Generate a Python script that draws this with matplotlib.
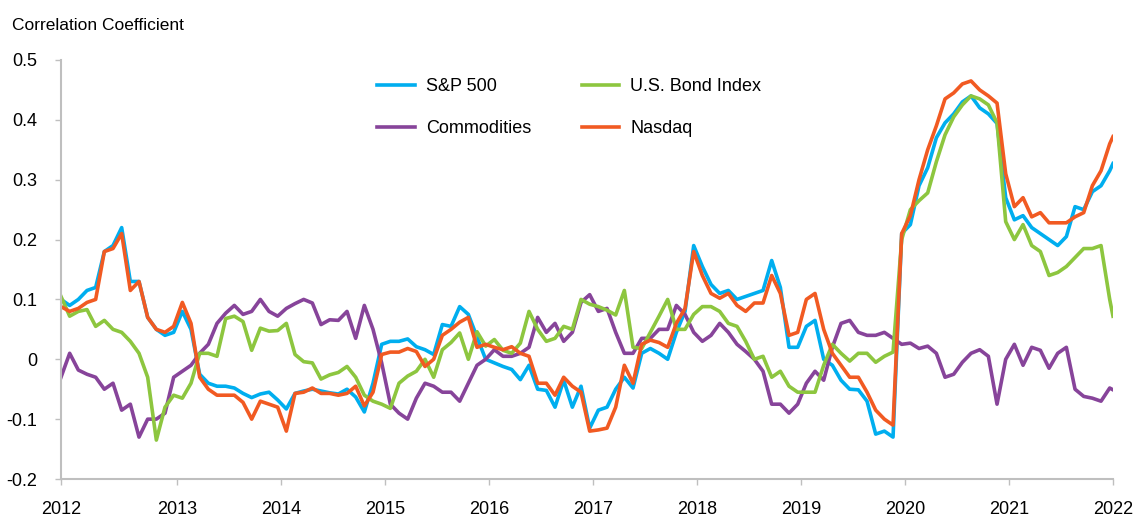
import numpy as np
import matplotlib
matplotlib.use("Agg")
import matplotlib.pyplot as plt

plt.rcParams['font.family'] = ['Liberation Sans Narrow', 'Liberation Sans', 'DejaVu Sans']

# monthly readings, mid-Nov 2011 .. end 2021
t = list(2011.885 + np.arange(122) / 12) + [2022.0]

sp500 = [
    0.100, 0.090, 0.100, 0.115, 0.120, 0.180, 0.190, 0.220, 0.130, 0.130,
    0.070, 0.050, 0.040, 0.045, 0.080, 0.050, -0.025, -0.040, -0.045, -0.045,
    -0.048, -0.057, -0.064, -0.058, -0.055, -0.068, -0.083, -0.057, -0.053, -0.050,
    -0.053, -0.056, -0.058, -0.050, -0.063, -0.088, -0.040, 0.025, 0.030, 0.030,
    0.034, 0.021, 0.016, 0.008, 0.058, 0.055, 0.088, 0.075, 0.037, 0.000,
    -0.006, -0.012, -0.017, -0.034, -0.010, -0.050, -0.052, -0.080, -0.035, -0.080,
    -0.045, -0.115, -0.085, -0.080, -0.050, -0.030, -0.048, 0.010, 0.018, 0.010,
    0.000, 0.045, 0.080, 0.190, 0.155, 0.125, 0.110, 0.115, 0.100, 0.105,
    0.110, 0.115, 0.165, 0.120, 0.020, 0.020, 0.055, 0.065, 0.000, -0.010,
    -0.035, -0.050, -0.051, -0.070, -0.125, -0.120, -0.130, 0.210, 0.225, 0.290,
    0.320, 0.370, 0.395, 0.410, 0.430, 0.440, 0.420, 0.410, 0.394, 0.270,
    0.233, 0.240, 0.220, 0.210, 0.200, 0.190, 0.205, 0.255, 0.250, 0.280,
    0.290, 0.315, 0.327,
]

nasdaq = [
    0.088, 0.080, 0.085, 0.095, 0.100, 0.180, 0.185, 0.210, 0.115, 0.130,
    0.070, 0.050, 0.045, 0.055, 0.095, 0.060, -0.030, -0.050, -0.060, -0.060,
    -0.060, -0.072, -0.100, -0.070, -0.075, -0.080, -0.120, -0.057, -0.055, -0.048,
    -0.057, -0.057, -0.060, -0.057, -0.045, -0.078, -0.055, 0.008, 0.012, 0.012,
    0.018, 0.013, -0.012, 0.000, 0.040, 0.050, 0.062, 0.070, 0.020, 0.025,
    0.020, 0.016, 0.021, 0.010, 0.005, -0.040, -0.040, -0.060, -0.030, -0.045,
    -0.055, -0.120, -0.118, -0.115, -0.080, -0.010, -0.040, 0.025, 0.032, 0.028,
    0.020, 0.060, 0.085, 0.180, 0.140, 0.110, 0.102, 0.110, 0.090, 0.080,
    0.094, 0.094, 0.140, 0.110, 0.040, 0.045, 0.100, 0.110, 0.050, 0.010,
    -0.010, -0.030, -0.030, -0.055, -0.085, -0.100, -0.110, 0.210, 0.240, 0.300,
    0.350, 0.390, 0.435, 0.445, 0.460, 0.465, 0.450, 0.440, 0.428, 0.310,
    0.255, 0.270, 0.238, 0.245, 0.228, 0.228, 0.228, 0.238, 0.245, 0.290,
    0.315, 0.360, 0.372,
]

bond = [
    0.105, 0.072, 0.080, 0.083, 0.055, 0.065, 0.050, 0.045, 0.030, 0.010,
    -0.030, -0.135, -0.080, -0.060, -0.065, -0.040, 0.010, 0.010, 0.005, 0.068,
    0.072, 0.063, 0.015, 0.052, 0.047, 0.048, 0.060, 0.008, -0.004, -0.006,
    -0.033, -0.026, -0.022, -0.012, -0.030, -0.060, -0.070, -0.075, -0.082, -0.040,
    -0.028, -0.020, 0.000, -0.030, 0.016, 0.028, 0.044, 0.000, 0.046, 0.022,
    0.033, 0.015, 0.010, 0.027, 0.080, 0.050, 0.030, 0.035, 0.055, 0.050,
    0.100, 0.092, 0.088, 0.082, 0.074, 0.115, 0.020, 0.018, 0.045, 0.072,
    0.100, 0.050, 0.050, 0.075, 0.088, 0.088, 0.080, 0.060, 0.055, 0.030,
    0.000, 0.005, -0.030, -0.020, -0.045, -0.055, -0.055, -0.055, -0.010, 0.025,
    0.010, -0.003, 0.010, 0.010, -0.005, 0.005, 0.012, 0.200, 0.250, 0.265,
    0.278, 0.330, 0.375, 0.405, 0.425, 0.440, 0.435, 0.425, 0.395, 0.230,
    0.200, 0.225, 0.190, 0.180, 0.140, 0.145, 0.155, 0.170, 0.185, 0.185,
    0.190, 0.100, 0.072,
]

commodities = [
    -0.030, 0.010, -0.018, -0.025, -0.030, -0.050, -0.040, -0.085, -0.075, -0.130,
    -0.100, -0.100, -0.090, -0.030, -0.020, -0.010, 0.010, 0.025, 0.060, 0.077,
    0.090, 0.075, 0.080, 0.100, 0.080, 0.072, 0.085, 0.093, 0.100, 0.094,
    0.058, 0.066, 0.065, 0.080, 0.035, 0.090, 0.050, -0.006, -0.075, -0.090,
    -0.100, -0.065, -0.040, -0.045, -0.055, -0.055, -0.070, -0.040, -0.010, 0.000,
    0.016, 0.005, 0.005, 0.010, 0.020, 0.070, 0.045, 0.060, 0.030, 0.045,
    0.095, 0.108, 0.080, 0.085, 0.045, 0.010, 0.010, 0.035, 0.035, 0.050,
    0.050, 0.090, 0.075, 0.045, 0.030, 0.040, 0.060, 0.045, 0.025, 0.013,
    0.000, -0.020, -0.075, -0.075, -0.090, -0.075, -0.040, -0.020, -0.035, 0.020,
    0.060, 0.065, 0.045, 0.040, 0.040, 0.045, 0.035, 0.025, 0.027, 0.018,
    0.022, 0.010, -0.030, -0.025, -0.005, 0.010, 0.016, 0.005, -0.075, 0.000,
    0.025, -0.010, 0.020, 0.015, -0.015, 0.010, 0.020, -0.050, -0.062, -0.065,
    -0.070, -0.048, -0.051,
]

year_ticks = [2011.885] + list(range(2013, 2023))
year_labels = [str(y) for y in range(2012, 2023)]
y_ticks = [-0.2, -0.1, 0, 0.1, 0.2, 0.3, 0.4, 0.5]
y_labels = ['-0.2', '-0.1', '0', '0.1', '0.2', '0.3', '0.4', '0.5']

fig = plt.figure(figsize=(11.33, 5.21), dpi=100)
ax = fig.add_axes([61 / 1133, 1 - 479 / 521, (1113 - 61) / 1133, (479 - 60) / 521])

lw = 2.6
l_sp, = ax.plot(t, sp500, color='#00AEEF', lw=lw, label='S&P 500')
l_co, = ax.plot(t, commodities, color='#87449A', lw=lw, label='Commodities')
l_bd, = ax.plot(t, bond, color='#8DC63F', lw=lw, label='U.S. Bond Index')
l_nq, = ax.plot(t, nasdaq, color='#F15A22', lw=lw, label='Nasdaq')

ax.set_xlim(2011.885, 2022.0)
ax.set_ylim(-0.2, 0.5)
ax.set_xticks(year_ticks)
ax.set_xticklabels(year_labels)
ax.set_yticks(y_ticks)
ax.set_yticklabels(y_labels)

for s in ['top', 'right']:
    ax.spines[s].set_visible(False)
ax.spines['left'].set_color('#BFBFBF')
ax.spines['bottom'].set_color('#BFBFBF')
ax.spines['left'].set_linewidth(1.5)
ax.spines['bottom'].set_linewidth(1.5)
ax.tick_params(axis='y', length=4, width=1, color='#BFBFBF', pad=13, labelsize=13)
ax.tick_params(axis='x', length=4, width=1, color='#BFBFBF', pad=12, labelsize=13)

fig.text(12 / 1133, 1 - 25 / 521, 'Correlation Coefficient', fontsize=12.5, va='center', ha='left')

fig.legend(handles=[l_sp, l_co, l_bd, l_nq], loc='upper left',
           bbox_to_anchor=(377 / 1133, 1 - 78 / 521), frameon=False, ncol=2,
           fontsize=13, handlelength=2.1, handletextpad=0.6, columnspacing=2.8,
           labelspacing=1.4, borderpad=0, borderaxespad=0)

fig.savefig('out.png', dpi=100)
